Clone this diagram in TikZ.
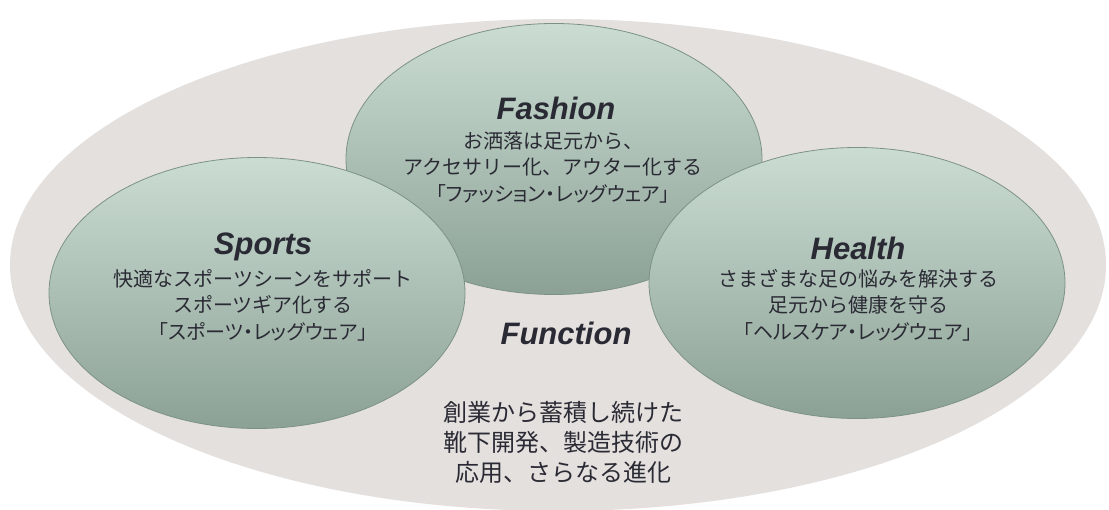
\documentclass[tikz,border=0pt]{standalone}
\usepackage{fontspec}
\setmainfont{Liberation Sans}
\newfontfamily\jpfont{Noto Sans CJK JP}
\newfontfamily\jppfont{Noto Sans CJK JP}[RawFeature=+palt]
\usetikzlibrary{shapes.geometric}
\definecolor{bggrey}{RGB}{228,224,222}
\definecolor{gtop}{RGB}{203,221,211}
\definecolor{gbot}{RGB}{140,161,149}
\definecolor{gline}{RGB}{125,146,135}
\definecolor{txt}{RGB}{42,42,52}
\tikzset{
  bigoval/.style={ellipse, fill=bggrey, draw=none, inner sep=0pt, outer sep=0pt},
  greenoval/.style={ellipse, draw=gline, line width=0.8pt, top color=gtop, bottom color=gbot,
    inner sep=0pt, outer sep=0pt, minimum width=416, minimum height=271},
  ttl/.style={text=txt, inner sep=0pt, font=\fontsize{31}{31}\selectfont\bfseries\itshape},
  desc/.style={text=txt, inner sep=0pt, align=center, font=\jpfont\fontsize{20}{26.5}\selectfont},
  fdesc/.style={text=txt, inner sep=0pt, align=center, font=\jpfont\fontsize{24}{30}\selectfont}
}
\begin{document}
\begin{tikzpicture}[x=1pt,y=-1pt]
\useasboundingbox (0,0) rectangle (1109,509);
\node[bigoval, minimum width=1096, minimum height=492] (bg) at (558,265) {};
\node[greenoval] (fashion) at (554,159) {};
\node[greenoval] (sports) at (257,293) {};
\node[greenoval] (health) at (857,283) {};
\node[ttl] (fashiont) at (556,108) {Fashion};
\node[desc] (fashiond) at (553,167) {お洒落は足元から、\\アクセサリー化、アウター化する\\{\jppfont 「ファッション・レッグウェア」}};
\node[ttl] (sportst) at (263,247) {Sports};
\node[desc] (sportsd) at (263,305) {快適なスポーツシーンをサポート\\スポーツギア化する\\{\jppfont 「スポーツ・レッグウェア」}};
\node[ttl] (healtht) at (858,248) {Health};
\node[desc] (healthd) at (858,305) {さまざまな足の悩みを解決する\\足元から健康を守る\\{\jppfont 「ヘルスケア・レッグウェア」}};
\node[ttl] (functiont) at (566,333) {Function};
\node[fdesc] (functiond) at (563,442) {創業から蓄積し続けた\\靴下開発、製造技術の\\応用、さらなる進化};
\end{tikzpicture}
\end{document}
